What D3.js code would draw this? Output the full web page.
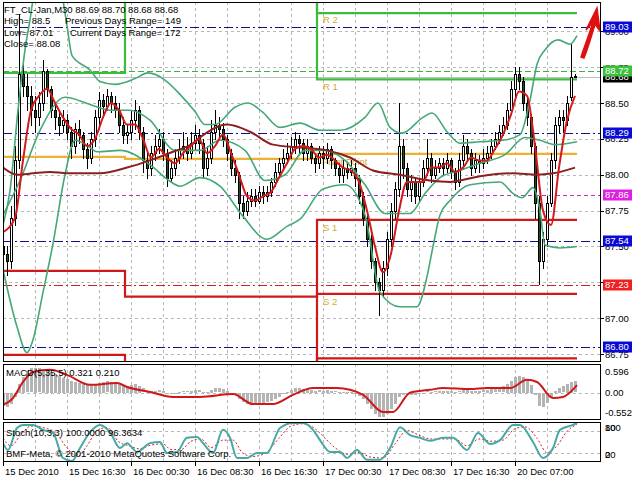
<!DOCTYPE html>
<html><head><meta charset="utf-8">
<script src="https://cdn.jsdelivr.net/npm/d3@7"></script>
<style>
body{margin:0;background:#fff}
svg{display:block}
text{font-family:"Liberation Sans",Arial,sans-serif;font-size:9.5px}
</style>
</head><body>
<svg id="c" width="640" height="480"></svg>
<script>
// ---------------- DATA ----------------
const opens=[87.50,87.45,87.40,87.70,88.10,88.70,88.62,88.55,88.45,88.40,
88.50,88.72,88.60,88.45,88.40,88.35,88.38,88.30,88.20,88.32,
88.28,88.18,88.12,88.25,88.40,88.52,88.48,88.55,88.50,88.45,
88.35,88.28,88.30,88.38,88.45,88.30,88.10,88.05,88.15,88.20,
88.25,88.15,87.98,88.05,88.12,88.18,88.20,88.15,88.22,88.28,
88.22,88.05,88.12,88.30,88.35,88.32,88.25,88.15,88.05,88.00,
87.80,87.75,87.82,87.85,87.82,87.88,87.85,87.88,87.95,88.02,
88.08,88.12,88.15,88.20,88.25,88.22,88.15,88.20,88.12,88.08,
88.15,88.12,88.18,88.10,88.05,88.00,88.05,88.02,88.05,87.98,
87.85,87.70,87.55,87.40,87.25,87.20,87.35,87.55,87.75,87.90,
88.20,88.05,87.90,87.95,87.85,87.95,88.05,88.12,88.00,88.05,
88.08,88.05,88.10,88.02,87.95,88.10,88.20,88.15,88.05,88.10,
88.08,88.12,88.15,88.20,88.25,88.30,88.35,88.45,88.60,88.70,
88.65,88.50,88.40,88.20,87.80,87.40,87.55,87.80,88.10,88.35,
88.40,88.38,88.54,88.69];
const highs=[87.55,87.50,87.78,88.20,89.12,88.78,88.70,88.62,88.55,88.58,
88.80,88.74,88.62,88.50,88.45,88.45,88.42,88.33,88.36,88.38,
88.30,88.22,88.30,88.45,88.58,88.56,88.60,88.58,88.55,88.50,
88.40,88.35,88.45,88.52,88.48,88.33,88.15,88.20,88.28,88.32,
88.30,88.18,88.10,88.18,88.25,88.30,88.26,88.30,88.35,88.32,
88.25,88.20,88.38,88.45,88.40,88.36,88.28,88.18,88.10,88.02,
87.85,87.88,87.90,87.90,87.92,87.92,87.92,87.98,88.08,88.12,
88.18,88.22,88.26,88.30,88.28,88.25,88.25,88.22,88.15,88.20,
88.20,88.22,88.20,88.12,88.08,88.10,88.08,88.10,88.08,88.00,
87.88,87.72,87.58,87.42,87.28,87.40,87.60,87.80,87.95,88.50,
88.25,88.08,88.00,87.98,87.98,88.10,88.25,88.15,88.10,88.12,
88.12,88.15,88.12,88.05,88.15,88.28,88.25,88.18,88.15,88.14,
88.18,88.20,88.25,88.30,88.35,88.40,88.50,88.65,88.75,88.75,
88.68,88.55,88.42,88.22,87.85,87.60,87.85,88.15,88.40,88.45,
88.45,88.55,88.92,88.70];
const lows=[86.85,87.30,87.35,87.65,88.05,88.55,88.45,88.35,88.30,88.35,
88.45,88.55,88.40,88.32,88.28,88.30,88.25,88.12,88.15,88.22,
88.12,88.05,88.08,88.20,88.35,88.42,88.45,88.44,88.40,88.30,
88.22,88.22,88.25,88.32,88.25,88.02,87.98,88.00,88.10,88.15,
88.10,87.92,87.95,88.00,88.08,88.12,88.10,88.12,88.18,88.15,
87.98,88.00,88.08,88.25,88.25,88.20,88.10,88.00,87.95,87.70,
87.70,87.72,87.78,87.78,87.80,87.80,87.82,87.85,87.92,88.00,
88.05,88.08,88.12,88.15,88.15,88.10,88.10,88.08,88.02,88.05,
88.05,88.08,88.05,88.00,87.95,87.95,87.98,88.00,87.92,87.80,
87.65,87.50,87.35,87.20,87.02,87.15,87.30,87.50,87.70,87.85,
87.98,87.85,87.82,87.80,87.82,87.92,88.00,87.95,87.98,88.02,
88.00,88.02,87.98,87.90,87.92,88.05,88.10,88.00,88.02,88.02,
88.05,88.08,88.12,88.18,88.22,88.28,88.32,88.42,88.55,88.60,
88.45,88.35,88.15,87.70,87.24,87.35,87.50,87.78,88.05,88.30,
88.30,88.35,88.52,88.68];
const closes=[87.45,87.40,87.70,88.10,88.70,88.62,88.55,88.45,88.40,88.50,
88.72,88.60,88.45,88.40,88.35,88.38,88.30,88.20,88.32,88.28,
88.18,88.12,88.25,88.40,88.52,88.48,88.55,88.50,88.45,88.35,
88.28,88.30,88.38,88.45,88.30,88.10,88.05,88.15,88.20,88.25,
88.15,87.98,88.05,88.12,88.18,88.20,88.15,88.22,88.28,88.22,
88.05,88.12,88.30,88.35,88.32,88.25,88.15,88.05,88.00,87.80,
87.75,87.82,87.85,87.82,87.88,87.85,87.88,87.95,88.02,88.08,
88.12,88.15,88.20,88.25,88.22,88.15,88.20,88.12,88.08,88.15,
88.12,88.18,88.10,88.05,88.00,88.05,88.02,88.05,87.98,87.85,
87.70,87.55,87.40,87.25,87.20,87.35,87.55,87.75,87.90,88.20,
88.05,87.90,87.95,87.85,87.95,88.05,88.12,88.00,88.05,88.08,
88.05,88.10,88.02,87.95,88.10,88.20,88.15,88.05,88.10,88.08,
88.12,88.15,88.20,88.25,88.30,88.35,88.45,88.60,88.70,88.65,
88.50,88.40,88.20,87.80,87.40,87.55,87.80,88.10,88.35,88.40,
88.38,88.50,88.68,88.68];

// indicator traces: [bar index, value]
const fastMA=[[0,87.6],[3,87.7],[5,88.1],[7,88.45],[9,88.55],[11,88.6],[13,88.5],[15,88.4],[17,88.32],[19,88.28],[21,88.2],[23,88.25],[25,88.4],[27,88.5],[29,88.45],[31,88.35],[33,88.35],[35,88.25],[37,88.12],[39,88.18],[41,88.12],[43,88.08],[45,88.15],[47,88.2],[49,88.25],[51,88.15],[53,88.2],[55,88.28],[57,88.15],[59,88.0],[61,87.85],[63,87.82],[65,87.85],[67,87.88],[69,87.98],[71,88.08],[73,88.18],[75,88.2],[77,88.18],[79,88.12],[81,88.14],[83,88.1],[85,88.05],[87,88.03],[89,87.95],[91,87.75],[93,87.5],[95,87.32],[97,87.45],[99,87.75],[101,87.95],[103,87.95],[105,87.95],[107,88.05],[109,88.05],[111,88.08],[113,88.02],[115,88.05],[117,88.12],[119,88.1],[121,88.1],[123,88.18],[125,88.28],[127,88.42],[129,88.58],[131,88.55],[133,88.2],[135,87.75],[137,87.65],[139,88.05],[141,88.38],[143,88.55]];
const slowMA=[[0,88.05],[3.5,88.0],[7.5,88.01],[11.75,88.02],[16,88.01],[24.25,88.01],[31,88.05],[36.75,88.10],[42.5,88.16],[47.5,88.22],[49.25,88.26],[56,88.35],[61.75,88.30],[67.5,88.21],[74.25,88.19],[81,88.17],[86.75,88.12],[92.5,88.03],[99.25,88.0],[106.75,87.96],[111.75,87.95],[119.25,87.99],[127.5,88.01],[133.5,88.0],[137.5,88.01],[143,88.05]];
const bbUpper=[[0,87.65],[1.75,87.89],[3.75,88.45],[5.5,88.87],[6.75,89.08],[8,89.29],[11.75,89.43],[14.75,89.25],[16,89.04],[17.25,88.83],[21.75,88.73],[24.25,88.65],[28,88.63],[33,88.67],[36.25,88.71],[40.5,88.66],[44.25,88.56],[48,88.44],[50.5,88.35],[53,88.35],[58,88.47],[61.25,88.50],[64.75,88.44],[69.25,88.33],[74.25,88.36],[79.25,88.31],[84.25,88.31],[90.5,88.40],[93.75,88.50],[96.75,88.33],[99.75,88.29],[105,88.40],[107.25,88.43],[111,88.30],[114.25,88.22],[119.25,88.23],[125,88.24],[129.25,88.28],[131.75,88.52],[133.5,88.77],[135.5,88.87],[138.75,88.94],[141.75,88.91],[143.5,88.97]];
const bbMiddle=[[0,87.72],[4.25,87.96],[9.25,88.31],[15.5,88.54],[21.75,88.49],[26.75,88.45],[31.75,88.45],[36.75,88.38],[43,88.17],[49.25,88.17],[54.25,88.24],[60.5,88.17],[65.5,87.96],[70.5,88.0],[75.5,88.17],[80.5,88.17],[85.5,88.10],[90.5,87.93],[95.5,87.73],[101.75,87.73],[105.5,87.87],[109.25,87.98],[114.25,88.03],[119.25,88.08],[125.5,88.14],[130.5,88.26],[134.25,88.24],[138,88.21],[143.5,88.23]];
const bbLower=[[0,87.34],[3.5,86.94],[6,86.76],[7.5,86.85],[10,87.18],[12.5,87.52],[15.5,88.0],[18,88.24],[21.75,88.19],[23.5,88.16],[29.25,88.17],[36.75,88.07],[41,87.97],[44.25,87.92],[49.25,87.98],[54.25,87.92],[60,87.71],[66,87.55],[71,87.64],[74.25,87.69],[80,87.9],[85.5,87.93],[90.5,87.72],[94.25,87.18],[99.25,87.08],[103.5,87.08],[106,87.29],[107.5,87.50],[109.25,87.72],[111.75,87.82],[116.75,87.93],[124.25,87.95],[127.5,87.87],[129.75,87.84],[132.5,87.91],[134.25,87.75],[135.5,87.51],[139.25,87.49],[143.5,87.50]];

// daily pivot levels: start bar of each day, values per day
const dayStart=[0,30.5,78.5];
const lastBar=143.5;
const pivotP=[88.124,88.11,88.145];
const pivotR1=[88.71,89.5,88.665];
const pivotR2=[89.7,89.8,89.127];
const pivotS1=[87.33,87.15,87.685];
const pivotS2=[86.744,86.5,87.17];
const pivotS3=[86.2,86.1,86.72];

// horizontal level lines
const levelVals=[89.03,88.72,88.29,87.86,87.54,87.23,86.80];
const levelKind=["navy","green","navy","magenta","navy","red","navy"];

const macdHist=[-0.35,-0.40,-0.30,-0.10,0.25,0.45,0.60,0.68,0.70,0.68,
0.66,0.62,0.58,0.52,0.48,0.42,0.38,0.33,0.30,0.28,
0.25,0.22,0.22,0.24,0.28,0.30,0.32,0.30,0.28,0.25,
0.22,0.20,0.22,0.24,0.20,0.12,0.06,0.05,0.06,0.07,
0.05,-0.02,-0.03,-0.01,0.02,0.04,0.04,0.06,0.08,0.07,
0.02,0.03,0.08,0.12,0.12,0.10,0.06,0.00,-0.06,-0.18,
-0.26,-0.30,-0.32,-0.32,-0.30,-0.28,-0.26,-0.22,-0.16,-0.10,
-0.04,0.02,0.08,0.12,0.12,0.10,0.10,0.08,0.06,0.07,
0.06,0.08,0.06,0.04,0.02,0.02,0.01,0.01,-0.02,-0.08,
-0.18,-0.30,-0.45,-0.58,-0.68,-0.66,-0.58,-0.45,-0.30,-0.10,
-0.05,-0.06,-0.05,-0.06,-0.04,0.00,0.04,0.03,0.04,0.05,
0.05,0.06,0.05,0.02,0.04,0.08,0.08,0.06,0.06,0.06,
0.07,0.08,0.10,0.12,0.15,0.18,0.24,0.34,0.44,0.48,
0.45,0.38,0.22,-0.05,-0.35,-0.38,-0.28,-0.12,0.06,0.14,
0.18,0.24,0.30,0.321];
const macdSignal=[[0,-0.34],[2.5,-0.15],[5,0.30],[7.5,0.58],[11.75,0.64],[16,0.50],[21.75,0.22],[28.5,0.27],[31,0.16],[36.75,0.02],[42.5,-0.12],[49.25,-0.12],[57.5,-0.04],[62.5,-0.32],[67.5,-0.32],[72.5,-0.06],[77.5,0.13],[83.5,0.13],[90,-0.06],[95,-0.54],[97.5,-0.54],[101.75,0.0],[106.75,0.08],[110,0.13],[116.75,0.10],[121,0.13],[126.75,0.13],[131,0.36],[133.5,0.30],[137.5,-0.15],[140,-0.12],[143.5,0.21]];

const stochMain=[[0,47],[1.25,29],[3.5,87],[5,95],[7.5,95],[10,82],[12.5,74],[15,8],[17.25,0],[19.25,34],[21.75,76],[24.25,95],[26.75,76],[29.25,34],[31,47],[33.5,24],[36.75,47],[39.25,50],[41,21],[43.5,24],[46,61],[48.5,63],[50,47],[52.5,21],[55,82],[56.75,61],[58.5,8],[61,8],[63.5,21],[66,21],[69.25,87],[72.5,100],[75,100],[77.5,82],[79.25,55],[81.75,24],[84.25,24],[86,8],[88.5,29],[91,3],[94.25,3],[96.75,34],[99.25,89],[101.75,68],[104.25,61],[106.75,53],[110,61],[112.5,61],[116,29],[118.75,74],[121.75,45],[124.25,55],[127.5,95],[129.25,95],[132.5,50],[135,8],[137.5,34],[139.25,82],[142.5,95],[143.5,100]];
const stochSignal=[[0,60],[2,40],[4.5,70],[7,92],[10,88],[13,75],[16,35],[18.5,12],[21,40],[23.5,80],[26,88],[29,50],[31.5,40],[34,32],[37,42],[40,45],[42,30],[44.5,30],[47,52],[49.5,58],[52,35],[55,55],[57.5,55],[60,20],[62.5,12],[65.5,20],[69,60],[72,92],[75,98],[78,85],[80.5,60],[83,35],[86,18],[89,22],[92,10],[95,8],[98,45],[101,80],[104,68],[107,58],[110,58],[113,58],[116,40],[119,58],[122,52],[125,55],[128,85],[130.5,90],[133.5,60],[136,22],[138.5,40],[141,78],[143.5,96.36]];

const timeLabels=["15 Dec 2010","15 Dec 16:30","16 Dec 00:30","16 Dec 08:30","16 Dec 16:30","17 Dec 00:30","17 Dec 08:30","17 Dec 16:30","20 Dec 07:00"];
const timeLabelBars=[0,16,32,48,64,80,96,112,128];
const priceTicks=[89.00,88.75,88.50,88.25,88.00,87.75,87.50,87.25,87.00,86.75];
const macdTicks=[0.596,0.00,-0.552];
const macdTickText=["0.596","0.00","-0.552"];
const stochTicks=[80,100,20,0];

const infoLines=["FT_CL-Jan,M30  88.69 88.70 88.68 88.68","High= 88.5","Low= 87.01","Close= 88.08"];
const rangeLines=["Previous Days Range= 149","Current Days Range= 172"];

// ---------------- DRAW ----------------
const svg=d3.select("#c");
const L=3,R=601;
const main={t:2,b:362},macd={t:364,b:420},sto={t:422,b:462};
const x=d3.scaleLinear().domain([0,1]).range([L,L+4]);
const yM=d3.scaleLinear().domain([86.695,89.204]).range([main.b,main.t]);
const yD=d3.scaleLinear().domain([-0.552,0.596]).range([412.4,371.4]);
const yS=d3.scaleLinear().domain([0,100]).range([461,423]);
const px=v=>Math.round(v)+0.5;

const defs=svg.append("defs");
[["cm",main],["cd",macd],["cs",sto]].forEach(([id,p])=>{
  defs.append("clipPath").attr("id",id).append("rect").attr("x",L).attr("y",p.t).attr("width",R-L).attr("height",p.b-p.t);
});

// grid
const gridBars=d3.range(8,144,8);
function vgrid(p){
  svg.append("g").selectAll("line").data(gridBars).join("line")
   .attr("x1",d=>px(x(d))).attr("x2",d=>px(x(d))).attr("y1",p.t).attr("y2",p.b)
   .attr("stroke","#b8b8b8").attr("stroke-dasharray","3,3");
}
vgrid(main);vgrid(macd);vgrid(sto);
svg.append("g").selectAll("line").data(priceTicks).join("line")
  .attr("x1",L).attr("x2",R).attr("y1",d=>px(yM(d))).attr("y2",d=>px(yM(d)))
  .attr("stroke","#b8b8b8").attr("stroke-dasharray","3,3");
svg.append("line").attr("x1",L).attr("x2",R).attr("y1",px(yD(0))).attr("y2",px(yD(0))).attr("stroke","#b8b8b8").attr("stroke-dasharray","3,3");
svg.append("g").selectAll("line").data([80,20]).join("line")
  .attr("x1",L).attr("x2",R).attr("y1",d=>px(yS(d))).attr("y2",d=>px(yS(d)))
  .attr("stroke","#b8b8b8").attr("stroke-dasharray","3,3");

const gm=svg.append("g").attr("clip-path","url(#cm)");

// level lines
const levelStyle={navy:["#101080","9,3,2,3"],green:["#3cb43c","6,3"],magenta:["#c030c0","4,3"],red:["#d02020","9,3,2,3"]};
gm.selectAll("line.lvl").data(levelVals).join("line")
  .attr("x1",L).attr("x2",R).attr("y1",d=>px(yM(d))).attr("y2",d=>px(yM(d)))
  .attr("stroke",(d,i)=>levelStyle[levelKind[i]][0]).attr("stroke-dasharray",(d,i)=>levelStyle[levelKind[i]][1]);
// current price line
gm.append("line").attr("x1",L).attr("x2",R).attr("y1",px(yM(closes[closes.length-1]))).attr("y2",px(yM(closes[closes.length-1]))).attr("stroke","#c0c0c0");

// pivot step lines
const step=d3.line().x(d=>x(d[0])).y(d=>yM(d[1])).curve(d3.curveStepAfter);
function stepPts(vals){const p=dayStart.map((s,k)=>[s,vals[k]]);p.push([lastBar,vals[vals.length-1]]);return p;}
[[pivotS3,"#d01818"],[pivotS2,"#d01818"],[pivotS1,"#d01818"],[pivotR2,"#3cbc3c"],[pivotR1,"#3cbc3c"],[pivotP,"#f0b030"]].forEach(([v,c])=>{
  gm.append("path").attr("d",step(stepPts(v))).attr("fill","none").attr("stroke",c).attr("stroke-width",2.2);
});
// pivot labels
const lbl=[["R 2",pivotR2[2],-7],["R 1",pivotR1[2],-8],["S 1",pivotS1[2],-8],["S 2",pivotS2[2],-8]];
gm.selectAll("text.pl").data(lbl).join("text").attr("x",x(dayStart[2])+6).attr("y",d=>yM(d[1])-d[2]+3)
  .attr("fill","#d8a830").text(d=>d[0]);
gm.append("text").attr("x",x(dayStart[2])+5).attr("y",yM(pivotP[2])+11).attr("fill","#d8a830").text("Pivot Point");

// candles
const bars=closes.map((c,i)=>({i,o:opens[i],h:highs[i],l:lows[i],c}));
gm.selectAll("line.wick").data(bars).join("line")
  .attr("x1",d=>px(x(d.i))).attr("x2",d=>px(x(d.i)))
  .attr("y1",d=>Math.round(yM(d.h))).attr("y2",d=>Math.round(yM(d.l))+1).attr("stroke","#000");
gm.selectAll("rect.body").data(bars).join("rect")
  .attr("x",d=>Math.round(x(d.i))-0.5).attr("width",2)
  .attr("y",d=>Math.round(yM(Math.max(d.o,d.c)))+0.5)
  .attr("height",d=>Math.max(1,Math.round(yM(Math.min(d.o,d.c)))-Math.round(yM(Math.max(d.o,d.c)))))
  .attr("fill",d=>d.c>=d.o?"#fff":"#1f4f1f").attr("stroke","#000");

// indicator lines
const lineM=d3.line().x(d=>x(d[0])).y(d=>yM(d[1])).curve(d3.curveMonotoneX);
[[bbUpper,"#45a877",1.6],[bbMiddle,"#45a877",1.6],[bbLower,"#45a877",1.6],[slowMA,"#8a2020",2],[fastMA,"#d41a1a",2]].forEach(([d,c,w])=>{
  gm.append("path").attr("d",lineM(d)).attr("fill","none").attr("stroke",c).attr("stroke-width",w);
});

// arrow
svg.append("path").attr("d","M581,57 C585,45 588,38 593,22 L586,30 L597,8 L600,31 L595,24 C591,38 588,48 584,58 Z")
  .attr("fill","#e01010").attr("stroke","#e01010").attr("stroke-width",1.5);

// MACD
const gd=svg.append("g").attr("clip-path","url(#cd)");
gd.selectAll("rect").data(macdHist).join("rect")
  .attr("x",(d,i)=>Math.round(x(i))-1).attr("width",3)
  .attr("y",d=>Math.round(Math.min(yD(d),yD(0)))).attr("height",d=>Math.max(1,Math.round(Math.abs(yD(d)-yD(0)))))
  .attr("fill","#b4b4b4");
gd.append("path").attr("d",d3.line().x(d=>x(d[0])).y(d=>yD(d[1])).curve(d3.curveMonotoneX)(macdSignal))
  .attr("fill","none").attr("stroke","#d01818").attr("stroke-width",2);

// Stoch
const gs=svg.append("g").attr("clip-path","url(#cs)");
const lineS=d3.line().x(d=>x(d[0])).y(d=>yS(d[1])).curve(d3.curveMonotoneX);
gs.append("path").attr("d",lineS(stochSignal)).attr("fill","none").attr("stroke","#d02020").attr("stroke-dasharray","2,2");
gs.append("path").attr("d",lineS(stochMain)).attr("fill","none").attr("stroke","#45a9a5").attr("stroke-width",2);

// borders
[main,macd,sto].forEach(p=>svg.append("rect").attr("x",L+0.5).attr("y",p.t+0.5).attr("width",R-L-1).attr("height",p.b-p.t-1).attr("fill","none").attr("stroke","#000"));

// right axis labels (a tick label entirely hidden under a level box is not drawn)
const ax=svg.append("g");
const shownTicks=priceTicks.filter(t=>levelVals.every(v=>Math.abs(yM(t)-yM(v))>=3.5));
ax.selectAll("text.pt").data(shownTicks).join("text").attr("x",605).attr("y",d=>yM(d)+3.5).text(d=>d.toFixed(2));
ax.selectAll("line.pt").data(priceTicks).join("line").attr("x1",R).attr("x2",R+3).attr("y1",d=>px(yM(d))).attr("y2",d=>px(yM(d))).attr("stroke","#000");
ax.selectAll("text.md").data(macdTicks).join("text").attr("x",605).attr("y",d=>yD(d)+3.5).text((d,i)=>macdTickText[i]);
ax.selectAll("text.st").data(stochTicks).join("text").attr("x",605).attr("y",d=>d>=80?430.5:457.5).text(d=>d);

// level label boxes
const boxCol={navy:"#0a0ad8",green:"#3cc03c",magenta:"#e020e0",red:"#f02020"};
const boxes=levelVals.map((v,i)=>({v,c:boxCol[levelKind[i]]}));
boxes.push({v:closes[closes.length-1],c:"#000"});
boxes.sort((a,b)=>(a.c==="#000"?-1:0));
const bg=ax.selectAll("g.box").data(boxes).join("g").attr("transform",d=>`translate(603,${Math.round(yM(d.v))-5.5})`);
bg.append("rect").attr("width",29).attr("height",11).attr("fill",d=>d.c);
bg.append("text").attr("x",2).attr("y",8.8).attr("fill","#fff").text(d=>d.v.toFixed(2));

// time axis
ax.selectAll("line.tt").data(timeLabelBars).join("line").attr("x1",d=>px(x(d))).attr("x2",d=>px(x(d))).attr("y1",sto.b).attr("y2",sto.b+4).attr("stroke","#000");
ax.selectAll("text.tl").data(timeLabels).join("text").attr("x",(d,i)=>x(timeLabelBars[i])+2).attr("y",475).text(d=>d);

// info texts
svg.selectAll("text.info").data(infoLines).join("text").attr("x",4).attr("y",(d,i)=>12.5+i*11.6).text(d=>d);
svg.append("text").attr("x",65).attr("y",24.1).text(rangeLines[0]);
svg.append("text").attr("x",70).attr("y",35.7).text(rangeLines[1]);
svg.append("text").attr("x",6).attr("y",376).text("MACD(5,35,5) 0.321 0.210");
svg.append("text").attr("x",6).attr("y",436).text("Stoch(10,3,3) 100.0000 96.3634");
svg.append("text").attr("x",6).attr("y",457).text("BMF-Meta, © 2001-2010 MetaQuotes Software Corp.");
</script>
</body></html>
